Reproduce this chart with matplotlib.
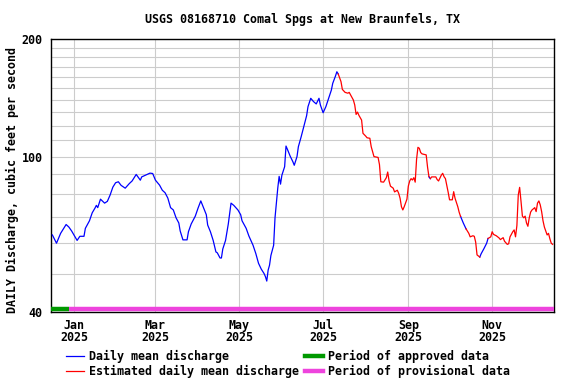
import numpy as np
import matplotlib
matplotlib.use("Agg")
import matplotlib.pyplot as plt
import matplotlib.dates as mdates
from matplotlib.lines import Line2D
from matplotlib.ticker import FixedLocator, NullFormatter

plt.rcParams["font.family"] = ["DejaVu Sans Mono"]
plt.rcParams["font.weight"] = "bold"
FS = 8.4

# daily mean discharge, cfs
dates = [
    "2024-12-16", "2024-12-19", "2024-12-22", "2024-12-26", "2024-12-28", "2024-12-30",
    "2025-01-03", "2025-01-05", "2025-01-08", "2025-01-09", "2025-01-12", "2025-01-14",
    "2025-01-16", "2025-01-17", "2025-01-18", "2025-01-20", "2025-01-23", "2025-01-25",
    "2025-01-27", "2025-01-29", "2025-01-31", "2025-02-02", "2025-02-04", "2025-02-07",
    "2025-02-10", "2025-02-12", "2025-02-15", "2025-02-18", "2025-02-19", "2025-02-23",
    "2025-02-25", "2025-02-27", "2025-03-01", "2025-03-04", "2025-03-06", "2025-03-08",
    "2025-03-10", "2025-03-12", "2025-03-14", "2025-03-16", "2025-03-18", "2025-03-19",
    "2025-03-21", "2025-03-24", "2025-03-25", "2025-03-27", "2025-03-30", "2025-04-01",
    "2025-04-03", "2025-04-05", "2025-04-07", "2025-04-08", "2025-04-10", "2025-04-12",
    "2025-04-14", "2025-04-15", "2025-04-17", "2025-04-18", "2025-04-19", "2025-04-21",
    "2025-04-23", "2025-04-24", "2025-04-25", "2025-04-27", "2025-04-30", "2025-05-02",
    "2025-05-03", "2025-05-06", "2025-05-08", "2025-05-11", "2025-05-13", "2025-05-15",
    "2025-05-17", "2025-05-19", "2025-05-20", "2025-05-21", "2025-05-22", "2025-05-23",
    "2025-05-24", "2025-05-26", "2025-05-27", "2025-05-28", "2025-05-29", "2025-05-30",
    "2025-05-31", "2025-06-01", "2025-06-03", "2025-06-04", "2025-06-05", "2025-06-07",
    "2025-06-09", "2025-06-10", "2025-06-12", "2025-06-13", "2025-06-15", "2025-06-17",
    "2025-06-19", "2025-06-20", "2025-06-22", "2025-06-24", "2025-06-26", "2025-06-28",
    "2025-06-29", "2025-07-01", "2025-07-03", "2025-07-05", "2025-07-07", "2025-07-08",
    "2025-07-10", "2025-07-11", "2025-07-12", "2025-07-14", "2025-07-15", "2025-07-17",
    "2025-07-19", "2025-07-20", "2025-07-21", "2025-07-23", "2025-07-24", "2025-07-25",
    "2025-07-26", "2025-07-27", "2025-07-29", "2025-07-30", "2025-08-01", "2025-08-02",
    "2025-08-04", "2025-08-05", "2025-08-07", "2025-08-10", "2025-08-11", "2025-08-12",
    "2025-08-14", "2025-08-16", "2025-08-17", "2025-08-18", "2025-08-19", "2025-08-21",
    "2025-08-22", "2025-08-24", "2025-08-25", "2025-08-26", "2025-08-27", "2025-08-28",
    "2025-08-29", "2025-08-31", "2025-09-01", "2025-09-02", "2025-09-03", "2025-09-04",
    "2025-09-05", "2025-09-06", "2025-09-07", "2025-09-08", "2025-09-09", "2025-09-10",
    "2025-09-11", "2025-09-14", "2025-09-15", "2025-09-16", "2025-09-17", "2025-09-18",
    "2025-09-21", "2025-09-22", "2025-09-23", "2025-09-25", "2025-09-26", "2025-09-27",
    "2025-09-28", "2025-09-30", "2025-10-01", "2025-10-03", "2025-10-04", "2025-10-05",
    "2025-10-07", "2025-10-08", "2025-10-09", "2025-10-11", "2025-10-13", "2025-10-15",
    "2025-10-16", "2025-10-18", "2025-10-19", "2025-10-20", "2025-10-21", "2025-10-23",
    "2025-10-24", "2025-10-26", "2025-10-28", "2025-10-29", "2025-10-31", "2025-11-01",
    "2025-11-02", "2025-11-04", "2025-11-06", "2025-11-07", "2025-11-09", "2025-11-10",
    "2025-11-12", "2025-11-13", "2025-11-14", "2025-11-16", "2025-11-17", "2025-11-18",
    "2025-11-19", "2025-11-20", "2025-11-21", "2025-11-22", "2025-11-23", "2025-11-24",
    "2025-11-25", "2025-11-26", "2025-11-27", "2025-11-28", "2025-11-29", "2025-11-30",
    "2025-12-02", "2025-12-03", "2025-12-04", "2025-12-05", "2025-12-06", "2025-12-07",
    "2025-12-08", "2025-12-09", "2025-12-11", "2025-12-12", "2025-12-13", "2025-12-14",
    "2025-12-15",
]
flow = [
    63.0, 60.0, 63.6, 67.0, 66.0, 64.5,
    61.0, 62.5, 62.5, 65.5, 68.5, 71.8,
    73.8, 75.0, 74.0, 77.8, 76.0, 76.8,
    79.7, 83.5, 85.7, 86.2, 84.4, 83.0,
    85.3, 86.6, 90.0, 87.0, 88.7, 90.0,
    90.7, 90.5, 87.0, 84.5, 82.0, 80.8,
    78.3, 74.0, 73.0, 69.7, 67.6, 64.5,
    61.2, 61.2, 64.2, 67.2, 70.4, 73.8,
    77.0, 74.0, 71.0, 66.8, 64.2, 61.0,
    57.0, 56.7, 55.0, 55.0, 58.0, 61.0,
    67.2, 71.3, 76.0, 75.0, 73.0, 71.0,
    68.5, 65.5, 62.6, 59.3, 56.5, 53.3,
    51.5, 50.2, 49.3, 48.0, 51.2, 52.7,
    55.8, 59.3, 69.7, 76.0, 83.0, 89.0,
    85.0, 89.6, 94.2, 106.4, 104.4, 100.3,
    97.0, 95.0, 100.0, 106.0, 112.3, 119.5,
    127.3, 134.2, 141.0, 138.3, 136.4, 141.0,
    135.6, 129.5, 134.2, 141.0, 148.0, 154.0,
    160.8, 164.9, 162.7, 155.6, 148.6, 146.0,
    145.3, 146.0, 143.8, 139.6, 135.6, 128.2,
    130.0, 127.6, 124.0, 114.7, 112.8, 111.7,
    111.4, 106.0, 100.0, 99.5, 95.4, 86.2,
    86.0, 88.3, 91.3, 86.6, 84.0, 83.0,
    81.2, 82.0, 80.5, 78.2, 74.4, 73.0,
    74.4, 77.8, 84.0, 86.6, 87.8, 87.1,
    88.3, 86.0, 98.4, 105.6, 105.0, 102.4,
    101.6, 101.0, 93.9, 88.8, 87.8, 88.7,
    88.7, 87.3, 86.6, 89.6, 90.6, 88.8,
    87.8, 81.0, 77.5, 77.5, 81.3, 78.2,
    74.4, 72.0, 70.3, 67.6, 65.3, 63.6,
    62.3, 62.7, 62.5, 60.4, 56.0, 55.3,
    56.4, 58.1, 60.0, 61.7, 62.3, 64.2,
    63.2, 62.7, 61.9, 61.3, 62.0, 60.7,
    59.6, 59.8, 62.3, 64.2, 64.9, 62.3,
    66.6, 79.7, 83.4, 76.8, 70.4, 69.7,
    70.4, 67.6, 66.3, 69.7, 72.1, 73.0,
    74.0, 72.3, 76.0, 77.0, 75.2, 72.3,
    68.5, 66.0, 63.0, 63.6, 61.6, 60.0,
    59.6,
]

# estimated-value periods (drawn red)
est_start = ["2025-07-12", "2025-09-17", "2025-10-13", "2025-10-29"]
est_end = ["2025-09-16", "2025-10-09", "2025-10-23", "2025-12-15"]

# data-status periods
approved_start, approved_end = "2024-12-15", "2024-12-28"
provisional_start, provisional_end = "2024-12-28", "2025-12-16"

x_start, x_end = "2024-12-15", "2025-12-16"
y_min, y_max = 40, 200
y_major = [40, 100, 200]
y_minor = [50, 60, 70, 80, 90, 110, 120, 130, 140, 150, 160, 170, 180, 190]
x_ticks = ["2025-01-01", "2025-03-01", "2025-05-01", "2025-07-01", "2025-09-01", "2025-11-01"]

d = np.array(dates, dtype="datetime64[D]")
q = np.array(flow)

# which segment (i -> i+1) lies inside an estimated period
red_seg = np.zeros(len(d) - 1, dtype=bool)
for s, e in zip(est_start, est_end):
    inside = (d >= np.datetime64(s)) & (d <= np.datetime64(e))
    red_seg |= inside[:-1] & inside[1:]
keep_blue = np.zeros(len(d), dtype=bool)
keep_blue[:-1] |= ~red_seg
keep_blue[1:] |= ~red_seg
q_blue = np.where(keep_blue, q, np.nan)

fig = plt.figure(figsize=(5.76, 3.84), dpi=100)
ax = fig.add_axes([51 / 576, 1 - 312 / 384, 503 / 576, 273 / 384])

ax.plot(d, q_blue, color="#0000ff", lw=0.9, zorder=3)
for s, e in zip(est_start, est_end):
    m = (d >= np.datetime64(s)) & (d <= np.datetime64(e))
    ax.plot(d[m], q[m], color="#ff0000", lw=0.9, zorder=4)

xt = ax.get_xaxis_transform()
ax.hlines(0.012, np.datetime64(provisional_start), np.datetime64(provisional_end),
          color="#ee44dd", lw=3.2, transform=xt, zorder=5, clip_on=False)
ax.hlines(0.012, np.datetime64(approved_start), np.datetime64(approved_end),
          color="#009900", lw=3.2, transform=xt, zorder=6, clip_on=False)

ax.set_yscale("log")
ax.set_ylim(y_min, y_max)
ax.set_xlim(np.datetime64(x_start), np.datetime64(x_end))

ax.yaxis.set_major_locator(FixedLocator(y_major))
ax.yaxis.set_minor_locator(FixedLocator(y_minor))
ax.set_yticklabels([str(v) for v in y_major])
ax.yaxis.set_minor_formatter(NullFormatter())
ax.set_xticks(np.array(x_ticks, dtype="datetime64[D]"))
ax.xaxis.set_major_formatter(mdates.DateFormatter("%b\n%Y"))

ax.tick_params(axis="both", which="both", length=0, labelsize=FS)
ax.tick_params(axis="y", pad=6)
ax.tick_params(axis="x", pad=5)
for lab in ax.get_xticklabels():
    lab.set_linespacing(0.95)
for lab in ax.get_xticklabels() + ax.get_yticklabels():
    lab.set_fontweight("bold")

ax.grid(True, which="both", axis="y", color="#cccccc", lw=0.8, zorder=0)
ax.grid(True, which="major", axis="x", color="#cccccc", lw=0.8, zorder=0)
ax.set_axisbelow(True)
for sp in ax.spines.values():
    sp.set_color("black")
    sp.set_linewidth(1.0)

fig.text(302.5 / 576, 1 - 19 / 384, "USGS 08168710 Comal Spgs at New Braunfels, TX",
         ha="center", va="center", fontsize=FS, fontweight="bold")
fig.text(12 / 576, 1 - 180 / 384, "DAILY Discharge, cubic feet per second",
         ha="center", va="center", rotation=90, fontsize=FS, fontweight="bold")

handles = [
    Line2D([], [], color="#0000ff", lw=0.9),
    Line2D([], [], color="#ff0000", lw=0.9),
    Line2D([], [], color="#009900", lw=3.2),
    Line2D([], [], color="#ee44dd", lw=3.2),
]
labels = [
    "Daily mean discharge",
    "Estimated daily mean discharge",
    "Period of approved data",
    "Period of provisional data",
]
fig.legend(handles, labels, ncol=2, frameon=False, loc="upper left",
           bbox_to_anchor=(66 / 576, 1 - 350 / 384),
           prop={"weight": "bold", "size": FS}, handlelength=1.5,
           handletextpad=0.5, columnspacing=0.5, labelspacing=0.15,
           borderpad=0, borderaxespad=0)

fig.savefig("out.png", dpi=100)
